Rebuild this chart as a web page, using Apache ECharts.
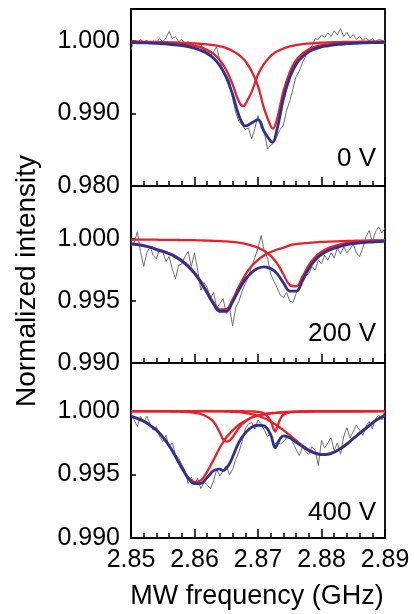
<!DOCTYPE html>
<html>
<head>
<meta charset="utf-8">
<script src="https://cdn.jsdelivr.net/npm/echarts@6.0.0/dist/echarts.min.js"></script>
<style>
  html, body { margin: 0; padding: 0; background: #fff; }
  #chart { width: 414px; height: 614px; }
</style>
</head>
<body>
<div id="chart"></div>
<script>
// measured spectrum, 0.5 MHz steps
const freqRaw = [
  2.8500, 2.8505, 2.8510, 2.8515, 2.8520, 2.8525, 2.8530, 2.8535, 2.8540, 2.8545,
  2.8550, 2.8555, 2.8560, 2.8565, 2.8570, 2.8575, 2.8580, 2.8585, 2.8590, 2.8595,
  2.8600, 2.8605, 2.8610, 2.8615, 2.8620, 2.8625, 2.8630, 2.8635, 2.8640, 2.8645,
  2.8650, 2.8655, 2.8660, 2.8665, 2.8670, 2.8675, 2.8680, 2.8685, 2.8690, 2.8695,
  2.8700, 2.8705, 2.8710, 2.8715, 2.8720, 2.8725, 2.8730, 2.8735, 2.8740, 2.8745,
  2.8750, 2.8755, 2.8760, 2.8765, 2.8770, 2.8775, 2.8780, 2.8785, 2.8790, 2.8795,
  2.8800, 2.8805, 2.8810, 2.8815, 2.8820, 2.8825, 2.8830, 2.8835, 2.8840, 2.8845,
  2.8850, 2.8855, 2.8860, 2.8865, 2.8870, 2.8875, 2.8880, 2.8885, 2.8890, 2.8895,
  2.8900
];
const raw0V = [
  0.9988, 1.0001, 0.9997, 1.0002, 0.9998, 1.0001, 0.9996, 1.0000, 0.9998, 1.0003,
  0.9999, 1.0004, 1.0013, 1.0003, 1.0006, 0.9999, 1.0002, 0.9995, 0.9999, 0.9993,
  0.9997, 0.9990, 0.9995, 0.9986, 0.9988, 0.9979, 0.9985, 0.9992, 0.9972, 0.9961,
  0.9952, 0.9945, 0.9921, 0.9901, 0.9889, 0.9884, 0.9878, 0.9880, 0.9865, 0.9879,
  0.9897, 0.9880, 0.9874, 0.9851, 0.9856, 0.9860, 0.9869, 0.9878, 0.9884, 0.9904,
  0.9917, 0.9934, 0.9951, 0.9958, 0.9970, 0.9979, 0.9987, 0.9993, 1.0003, 1.0002,
  1.0008, 1.0005, 1.0011, 1.0006, 1.0014, 1.0008, 1.0017, 1.0006, 1.0012, 1.0004,
  1.0009, 1.0002, 1.0006, 1.0001, 1.0004, 1.0000, 1.0003, 0.9999, 1.0002, 1.0001,
  0.9996
];
const raw200V = [
  0.9995, 0.9997, 1.0006, 0.9990, 0.9978, 0.9989, 0.9994, 0.9987, 0.9984, 0.9992,
  0.9990, 0.9982, 0.9986, 0.9976, 0.9968, 0.9979, 0.9980, 0.9986, 0.9990, 0.9978,
  0.9989, 0.9975, 0.9959, 0.9965, 0.9961, 0.9952, 0.9957, 0.9945, 0.9948, 0.9952,
  0.9940, 0.9945, 0.9930, 0.9945, 0.9950, 0.9958, 0.9964, 0.9970, 0.9978, 0.9985,
  0.9993, 1.0003, 0.9990, 0.9985, 0.9972, 0.9966, 0.9961, 0.9955, 0.9953, 0.9957,
  0.9950, 0.9949, 0.9956, 0.9962, 0.9965, 0.9971, 0.9972, 0.9978, 0.9975, 0.9983,
  0.9980, 0.9987, 0.9983, 0.9989, 0.9985, 0.9993, 0.9988, 0.9994, 0.9989, 0.9992,
  0.9996, 0.9989, 0.9986, 0.9993, 1.0002, 1.0007, 0.9998, 1.0006, 1.0010, 1.0005,
  1.0009
];
const raw400V = [
  0.9998, 0.9993, 0.9988, 0.9996, 0.9991, 0.9996, 0.9990, 0.9985, 0.9988, 0.9980,
  0.9976, 0.9981, 0.9972, 0.9975, 0.9966, 0.9963, 0.9958, 0.9953, 0.9943, 0.9948,
  0.9942, 0.9947, 0.9939, 0.9944, 0.9942, 0.9939, 0.9945, 0.9954, 0.9949, 0.9953,
  0.9957, 0.9950, 0.9954, 0.9962, 0.9968, 0.9976, 0.9986, 0.9990, 0.9991, 0.9986,
  0.9993, 0.9990, 0.9985, 0.9980, 0.9983, 0.9973, 0.9976, 0.9974, 0.9976, 0.9979,
  0.9981, 0.9975, 0.9970, 0.9965, 0.9972, 0.9968, 0.9966, 0.9972, 0.9969, 0.9957,
  0.9977, 0.9971, 0.9975, 0.9979, 0.9969, 0.9975, 0.9966, 0.9980, 0.9987, 0.9979,
  0.9984, 0.9989, 0.9985, 0.9981, 0.9988, 0.9992, 0.9986, 0.9994, 0.9997, 0.9993,
  1.0001
];

// fitted curves, 0 V
const freqFit0V = [
  2.850, 2.851, 2.852, 2.853, 2.854, 2.855, 2.856, 2.857, 2.858, 2.859,
  2.860, 2.861, 2.862, 2.863, 2.864, 2.865, 2.866, 2.867, 2.8677, 2.868,
  2.869, 2.870, 2.871, 2.872, 2.8723, 2.873, 2.874, 2.875, 2.876, 2.877,
  2.878, 2.879, 2.880, 2.881, 2.882, 2.883, 2.884, 2.885, 2.886, 2.887,
  2.888, 2.889, 2.890
];
const peak0V_1 = [
  0.99988, 0.99987, 0.99985, 0.99983, 0.99981, 0.99977, 0.99973, 0.99968, 0.99960, 0.99950,
  0.99932, 0.99910, 0.99874, 0.99820, 0.99734, 0.99600, 0.99400, 0.99163, 0.99100, 0.99127,
  0.99298, 0.99536, 0.99690, 0.99793, 0.99815, 0.99856, 0.99896, 0.99925, 0.99944, 0.99957,
  0.99964, 0.99970, 0.99976, 0.99979, 0.99983, 0.99984, 0.99986, 0.99987, 0.99989, 0.99990,
  0.99991, 0.99991, 0.99992
];
const peak0V_2 = [
  0.99990, 0.99989, 0.99988, 0.99987, 0.99985, 0.99983, 0.99981, 0.99978, 0.99977, 0.99972,
  0.99967, 0.99960, 0.99952, 0.99942, 0.99925, 0.99900, 0.99861, 0.99806, 0.99752, 0.99722,
  0.99583, 0.99377, 0.99056, 0.98826, 0.98790, 0.98923, 0.99304, 0.99570, 0.99734, 0.99825,
  0.99885, 0.99920, 0.99941, 0.99953, 0.99964, 0.99970, 0.99976, 0.99978, 0.99981, 0.99984,
  0.99986, 0.99987, 0.99989
];
const total0V = [
  0.99978, 0.99975, 0.99973, 0.99970, 0.99966, 0.99960, 0.99954, 0.99946, 0.99937, 0.99922,
  0.99899, 0.99870, 0.99826, 0.99762, 0.99659, 0.99500, 0.99261, 0.98969, 0.98840, 0.98828,
  0.98870, 0.98913, 0.98746, 0.98619, 0.98605, 0.98779, 0.99200, 0.99495, 0.99678, 0.99782,
  0.99849, 0.99890, 0.99917, 0.99932, 0.99947, 0.99954, 0.99962, 0.99965, 0.99970, 0.99974,
  0.99977, 0.99978, 0.99981
];

// fitted curves, 200 V
const freqFit200V = [
  2.850, 2.851, 2.852, 2.853, 2.854, 2.855, 2.856, 2.857, 2.858, 2.859,
  2.860, 2.861, 2.862, 2.863, 2.864, 2.865, 2.866, 2.867, 2.868, 2.869,
  2.870, 2.871, 2.872, 2.873, 2.874, 2.875, 2.876, 2.877, 2.878, 2.879,
  2.880, 2.881, 2.882, 2.883, 2.884, 2.885, 2.886, 2.887, 2.888, 2.889,
  2.890
];
const peak200V_1 = [
  0.99964, 0.99959, 0.99951, 0.99939, 0.99921, 0.99906, 0.99887, 0.99863, 0.99831, 0.99788,
  0.99732, 0.99661, 0.99576, 0.99490, 0.99433, 0.99436, 0.99515, 0.99619, 0.99712, 0.99783,
  0.99834, 0.99871, 0.99897, 0.99917, 0.99931, 0.99951, 0.99961, 0.99966, 0.99971, 0.99975,
  0.99978, 0.99980, 0.99982, 0.99984, 0.99986, 0.99987, 0.99988, 0.99989, 0.99990, 0.99991,
  0.99992
];
const peak200V_2 = [
  0.99997, 0.99997, 0.99996, 0.99996, 0.99996, 0.99995, 0.99995, 0.99994, 0.99993, 0.99993,
  0.99992, 0.99990, 0.99989, 0.99987, 0.99985, 0.99982, 0.99979, 0.99972, 0.99963, 0.99948,
  0.99931, 0.99906, 0.99866, 0.99805, 0.99717, 0.99630, 0.99619, 0.99698, 0.99790, 0.99856,
  0.99899, 0.99927, 0.99945, 0.99959, 0.99971, 0.99978, 0.99982, 0.99985, 0.99987, 0.99989,
  0.99990
];
const total200V = [
  0.99961, 0.99956, 0.99947, 0.99935, 0.99916, 0.99901, 0.99882, 0.99857, 0.99824, 0.99780,
  0.99724, 0.99651, 0.99565, 0.99477, 0.99418, 0.99418, 0.99494, 0.99591, 0.99675, 0.99731,
  0.99765, 0.99777, 0.99763, 0.99722, 0.99648, 0.99581, 0.99580, 0.99664, 0.99761, 0.99831,
  0.99877, 0.99907, 0.99927, 0.99943, 0.99957, 0.99965, 0.99970, 0.99974, 0.99977, 0.99980,
  0.99982
];

// fitted curves, 400 V
const freqFit400V = [
  2.850, 2.851, 2.852, 2.853, 2.854, 2.855, 2.856, 2.857, 2.858, 2.859,
  2.860, 2.861, 2.862, 2.863, 2.864, 2.8645, 2.865, 2.8655, 2.866, 2.867,
  2.868, 2.869, 2.870, 2.871, 2.872, 2.8724, 2.8727, 2.873, 2.8735, 2.874,
  2.875, 2.876, 2.877, 2.878, 2.879, 2.880, 2.881, 2.882, 2.883, 2.884,
  2.885, 2.886, 2.887, 2.888, 2.889, 2.890
];
const peak400V_1 = [
  0.99961, 0.99944, 0.99922, 0.99890, 0.99852, 0.99798, 0.99731, 0.99647, 0.99558, 0.99479,
  0.99443, 0.99454, 0.99524, 0.99616, 0.99714, 0.99754, 0.99793, 0.99821, 0.99849, 0.99894,
  0.99924, 0.99950, 0.99965, 0.99976, 0.99983, 0.99984, 0.99985, 0.99987, 0.99988, 0.99990,
  0.99993, 0.99994, 0.99996, 0.99997, 0.99998, 0.99998, 0.99998, 0.99998, 0.99999, 0.99999,
  0.99999, 0.99999, 0.99999, 0.99999, 1.00000, 1.00000
];
const peak400V_2 = [
  0.99999, 0.99999, 0.99999, 0.99999, 0.99999, 0.99999, 0.99998, 0.99997, 0.99995, 0.99993,
  0.99987, 0.99978, 0.99955, 0.99916, 0.99830, 0.99779, 0.99760, 0.99768, 0.99795, 0.99870,
  0.99920, 0.99950, 0.99966, 0.99977, 0.99984, 0.99986, 0.99987, 0.99988, 0.99990, 0.99993,
  0.99994, 0.99995, 0.99996, 0.99997, 0.99998, 0.99998, 0.99998, 0.99999, 0.99999, 0.99999,
  0.99999, 0.99999, 1.00000, 1.00000, 1.00000, 1.00000
];
const peak400V_3 = [
  1.00000, 1.00000, 1.00000, 1.00000, 1.00000, 1.00000, 1.00000, 1.00000, 1.00000, 1.00000,
  1.00000, 1.00000, 1.00000, 1.00000, 1.00000, 1.00000, 1.00000, 1.00000, 1.00000, 1.00000,
  0.99999, 0.99998, 0.99995, 0.99982, 0.99924, 0.99866, 0.99840, 0.99872, 0.99938, 0.99972,
  0.99992, 0.99997, 0.99999, 1.00000, 1.00000, 1.00000, 1.00000, 1.00000, 1.00000, 1.00000,
  1.00000, 1.00000, 1.00000, 1.00000, 1.00000, 1.00000
];
const peak400V_4 = [
  1.00000, 1.00000, 1.00000, 1.00000, 1.00000, 1.00000, 1.00000, 1.00000, 1.00000, 1.00000,
  1.00000, 0.99999, 0.99999, 0.99999, 0.99999, 0.99998, 0.99997, 0.99996, 0.99995, 0.99992,
  0.99985, 0.99976, 0.99963, 0.99944, 0.99919, 0.99907, 0.99898, 0.99888, 0.99869, 0.99851,
  0.99811, 0.99769, 0.99729, 0.99695, 0.99672, 0.99661, 0.99663, 0.99680, 0.99708, 0.99744,
  0.99785, 0.99827, 0.99866, 0.99908, 0.99942, 0.99966
];
const total400V = [
  0.99959, 0.99942, 0.99920, 0.99888, 0.99850, 0.99796, 0.99728, 0.99643, 0.99552, 0.99471,
  0.99429, 0.99431, 0.99478, 0.99531, 0.99543, 0.99532, 0.99550, 0.99585, 0.99639, 0.99756,
  0.99829, 0.99874, 0.99889, 0.99883, 0.99813, 0.99745, 0.99712, 0.99736, 0.99785, 0.99806,
  0.99790, 0.99755, 0.99721, 0.99689, 0.99668, 0.99657, 0.99659, 0.99677, 0.99705, 0.99741,
  0.99783, 0.99825, 0.99864, 0.99906, 0.99940, 0.99964
];

const FONT = '"Liberation Sans", Arial, Helvetica, sans-serif';
const GRAY = '#6e6e6e';
const RED = '#e8202a';
const BLUE = '#2d3190';

// one entry per stacked panel
const panels = [
  { top: 9, height: 177, min: 0.98, max: 1.0044, interval: 0.01, raw: raw0V,
    fitX: freqFit0V, peaks: [peak0V_1, peak0V_2], total: total0V, tag: '0 V', tagY: 159 },
  { top: 186, height: 177, min: 0.99, max: 1.0043, interval: 0.005, raw: raw200V,
    fitX: freqFit200V, peaks: [peak200V_1, peak200V_2], total: total200V, tag: '200 V', tagY: 334 },
  { top: 363, height: 175, min: 0.99, max: 1.0038, interval: 0.005, raw: raw400V,
    fitX: freqFit400V, peaks: [peak400V_1, peak400V_2, peak400V_3, peak400V_4], total: total400V, tag: '400 V', tagY: 513 }
];

function zip(xs, ys) {
  return xs.map((x, i) => [x, ys[i]]);
}

const series = [];
panels.forEach((p, i) => {
  series.push({
    type: 'line', xAxisIndex: i, yAxisIndex: i, data: zip(freqRaw, p.raw),
    showSymbol: false, lineStyle: { color: GRAY, width: 1 }, z: 2
  });
  p.peaks.forEach(pk => {
    series.push({
      type: 'line', xAxisIndex: i, yAxisIndex: i, data: zip(p.fitX, pk),
      showSymbol: false, smooth: 0.4, lineStyle: { color: RED, width: 2.3 }, z: 3
    });
  });
  series.push({
    type: 'line', xAxisIndex: i, yAxisIndex: i, data: zip(p.fitX, p.total),
    showSymbol: false, smooth: 0.4, lineStyle: { color: BLUE, width: 2.8 }, z: 4
  });
});

const chart = echarts.init(document.getElementById('chart'), null, { renderer: 'canvas' });
chart.setOption({
  animation: false,
  backgroundColor: '#fff',
  grid: panels.map(p => ({
    left: 131, right: 29, top: p.top, height: p.height,
    show: true, borderColor: '#000', borderWidth: 1.8
  })),
  xAxis: panels.map((p, i) => ({
    gridIndex: i, type: 'value', min: 2.85, max: 2.89, interval: 0.01,
    axisLine: { show: true, lineStyle: { color: '#000', width: 1.8 } },
    axisTick: { inside: true, length: 9, lineStyle: { color: '#000', width: 1.5 } },
    minorTick: { show: true, splitNumber: 5, length: 5, lineStyle: { color: '#000', width: 1.5 } },
    splitLine: { show: false },
    axisLabel: {
      show: i === 2, color: '#000', fontSize: 25, fontFamily: FONT, margin: 10,
      formatter: v => v.toFixed(2)
    }
  })),
  yAxis: panels.map((p, i) => ({
    gridIndex: i, type: 'value', min: p.min, max: p.max, interval: p.interval,
    axisLine: { show: true, lineStyle: { color: '#000', width: 1.8 } },
    axisTick: { inside: true, length: 5, lineStyle: { color: '#000', width: 1.5 } },
    splitLine: { show: false },
    axisLabel: {
      color: '#000', fontSize: 25, fontFamily: FONT, margin: 11,
      showMinLabel: true,
      formatter: v => {
        const r = v / p.interval;
        return Math.abs(r - Math.round(r)) < 1e-6 ? v.toFixed(3) : '';
      }
    }
  })),
  graphic: [
    ...panels.map(p => ({
      type: 'text', x: 376, y: p.tagY, z: 10,
      style: {
        text: p.tag, fill: '#000', font: '26px ' + FONT,
        align: 'right', verticalAlign: 'middle', textAlign: 'right', textVerticalAlign: 'middle'
      }
    })),
    {
      type: 'text', x: 257, y: 597, z: 10,
      style: {
        text: 'MW frequency (GHz)', fill: '#000', font: '27px ' + FONT,
        align: 'center', verticalAlign: 'middle', textAlign: 'center', textVerticalAlign: 'middle'
      }
    },
    {
      type: 'text', x: 27, y: 281, rotation: Math.PI / 2, z: 10,
      style: {
        text: 'Normalized intensity', fill: '#000', font: '28px ' + FONT,
        align: 'center', verticalAlign: 'middle', textAlign: 'center', textVerticalAlign: 'middle'
      }
    }
  ],
  series
});
</script>
</body>
</html>
